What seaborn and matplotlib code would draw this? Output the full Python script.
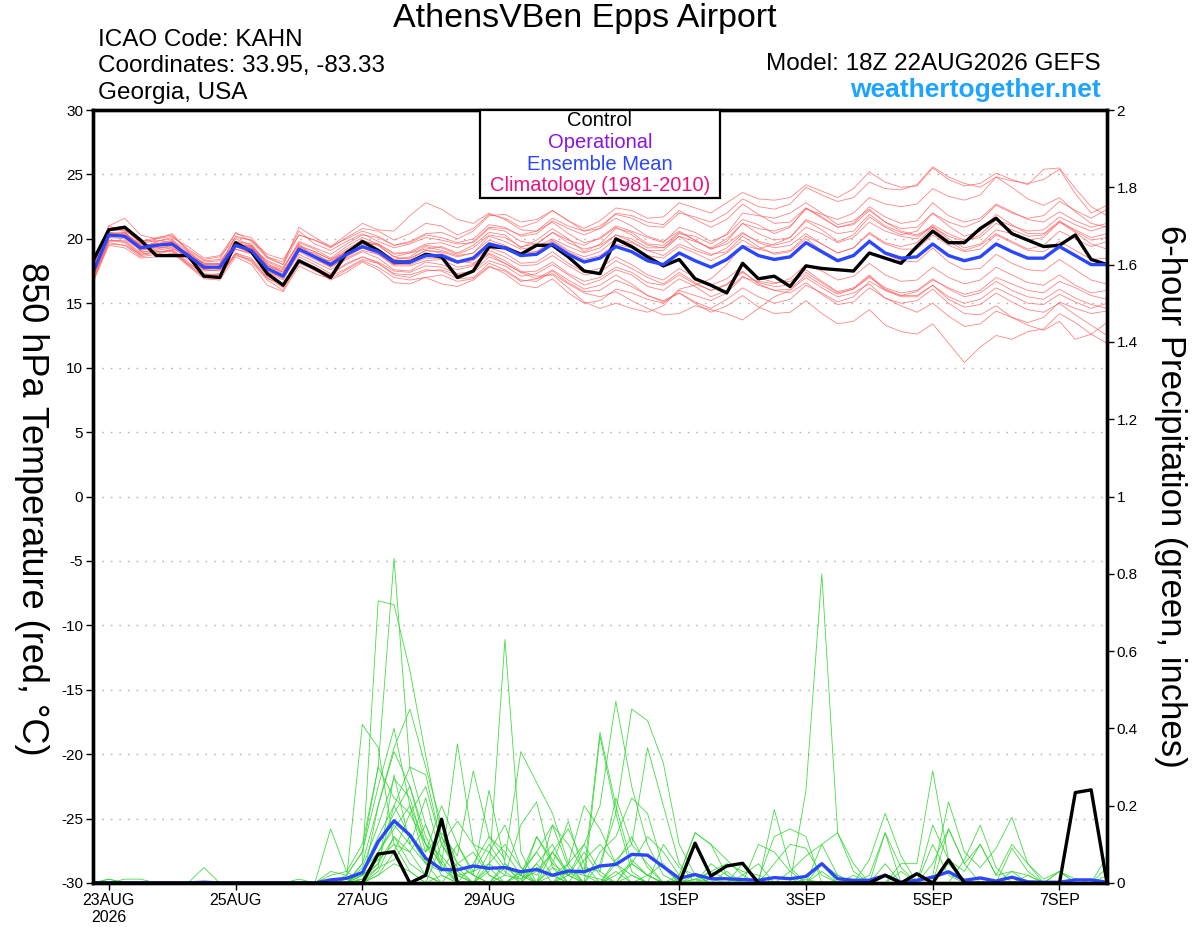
import numpy as np
import pandas as pd
import matplotlib
matplotlib.use("Agg")
import matplotlib.pyplot as plt
import matplotlib.patches as mpatches
from matplotlib.ticker import FuncFormatter
import seaborn as sns

# ---------------- data ----------------
times = pd.date_range("2026-08-22 18:00", periods=65, freq="6h")

tick_dates = pd.to_datetime(["2026-08-23", "2026-08-25", "2026-08-27", "2026-08-29",
                             "2026-09-01", "2026-09-03", "2026-09-05", "2026-09-07"])
tick_labels = ["23AUG\n2026", "25AUG", "27AUG", "29AUG", "1SEP", "3SEP", "5SEP", "7SEP"]

temp_mean = [17.4, 20.3, 20.2, 19.3, 19.5, 19.6, 18.7, 17.8,
             17.8, 19.5, 19.1, 17.7, 17.1, 19.2, 18.6, 18.0,
             18.8, 19.4, 19.0, 18.2, 18.2, 18.7, 18.7, 18.2,
             18.5, 19.6, 19.3, 18.7, 18.8, 19.6, 18.8, 18.2,
             18.5, 19.4, 19.0, 18.3, 18.0, 18.9, 18.3, 17.8,
             18.4, 19.4, 18.7, 18.4, 18.6, 19.7, 19.0, 18.3,
             18.7, 19.8, 18.9, 18.5, 18.6, 19.6, 18.7, 18.3,
             18.6, 19.6, 19.0, 18.5, 18.5, 19.4, 18.7, 18.0,
             18.0]

temp_control = [18.3, 20.7, 20.9, 19.9, 18.7, 18.7, 18.7, 17.1,
                17.0, 19.7, 19.0, 17.3, 16.4, 18.3, 17.7, 17.0,
                18.9, 19.8, 19.1, 18.2, 18.2, 18.8, 18.6, 17.0,
                17.5, 19.4, 19.3, 18.8, 19.5, 19.5, 18.6, 17.5,
                17.3, 20.0, 19.4, 18.6, 17.9, 18.4, 16.9, 16.4,
                15.8, 18.1, 16.9, 17.1, 16.3, 17.9, 17.7, 17.6,
                17.5, 18.9, 18.5, 18.1, 19.4, 20.6, 19.7, 19.7,
                20.8, 21.6, 20.4, 19.9, 19.4, 19.5, 20.3, 18.4,
                18.0]

temp_members = [
    [17.9, 20.8, 21.0, 19.8, 20.1, 20.3, 19.0, 18.1, 18.0, 20.2, 19.9, 18.6, 18.0, 20.3, 19.9, 19.3,
     20.1, 20.8, 20.6, 19.9, 20.4, 21.2, 21.0, 20.3, 20.8, 21.9, 21.6, 20.9, 21.3, 22.2, 21.4, 20.8,
     21.4, 22.4, 22.2, 21.6, 21.7, 22.8, 22.4, 22.0, 22.8, 23.6, 23.1, 23.0, 23.2, 24.2, 23.7, 23.2,
     23.9, 25.2, 24.4, 24.0, 24.1, 25.5, 24.6, 24.1, 24.3, 25.1, 24.6, 24.2, 25.4, 25.5, 23.9, 22.5,
     21.8],
    [16.9, 19.6, 19.5, 18.8, 19.0, 19.0, 18.0, 17.0, 17.2, 18.9, 18.3, 17.0, 16.2, 18.3, 17.8, 17.2,
     18.0, 18.6, 18.1, 17.3, 17.2, 17.6, 17.5, 16.9, 17.0, 18.1, 17.6, 16.8, 16.7, 17.5, 16.6, 15.9,
     16.0, 16.8, 16.3, 15.6, 15.1, 15.8, 15.0, 14.3, 14.8, 15.6, 14.7, 14.2, 14.3, 15.2, 14.2, 13.4,
     13.6, 14.5, 13.3, 12.8, 12.6, 13.4, 11.9, 10.4, 11.6, 12.5, 12.2, 12.8, 13.0, 14.2, 13.5, 12.6,
     11.9],
    [18.2, 21.0, 20.6, 19.9, 19.8, 20.1, 19.4, 18.5, 18.7, 20.4, 20.1, 18.6, 18.2, 20.6, 19.6, 19.1,
     19.8, 20.4, 19.8, 19.3, 19.6, 20.1, 19.9, 19.6, 19.7, 20.8, 20.6, 19.8, 19.6, 20.5, 19.9, 19.5,
     20.1, 21.0, 20.6, 20.1, 19.7, 20.9, 20.5, 19.8, 20.3, 21.5, 21.1, 20.4, 20.9, 22.4, 21.6, 20.9,
     21.2, 22.5, 21.7, 21.2, 21.4, 22.8, 21.8, 21.3, 21.6, 22.7, 22.1, 21.5, 21.3, 22.1, 21.4, 20.9,
     21.2],
    [16.8, 19.9, 19.7, 18.7, 18.9, 19.2, 18.2, 17.2, 17.3, 18.7, 18.4, 16.9, 16.5, 18.3, 17.5, 17.1,
     17.7, 18.4, 18.1, 17.2, 17.0, 17.5, 17.6, 17.2, 17.4, 18.3, 17.9, 17.1, 17.3, 18.0, 17.2, 16.4,
     16.8, 17.6, 17.2, 16.3, 16.0, 16.9, 16.3, 15.5, 16.0, 17.1, 16.4, 16.0, 16.1, 17.2, 16.4, 15.7,
     16.1, 17.0, 16.2, 15.8, 16.0, 16.9, 16.1, 15.5, 15.8, 16.7, 16.0, 15.5, 15.3, 16.1, 15.4, 14.9,
     14.6],
    [17.6, 20.6, 20.9, 19.6, 19.3, 19.4, 18.9, 17.6, 17.6, 19.8, 19.4, 18.1, 17.4, 19.5, 19.0, 18.4,
     19.2, 19.9, 19.5, 18.6, 18.4, 19.1, 18.9, 18.3, 18.1, 18.9, 18.3, 17.5, 17.1, 17.2, 16.2, 15.1,
     14.6, 15.0, 14.6, 14.3, 14.8, 16.1, 16.4, 16.9, 18.0, 19.5, 19.2, 19.6, 20.1, 21.5, 21.0, 20.4,
     20.6, 21.9, 21.0, 20.5, 20.2, 20.9, 19.8, 19.1, 19.5, 20.4, 19.8, 19.2, 19.5, 20.6, 20.0, 19.4,
     19.8],
    [17.8, 20.5, 20.4, 19.6, 19.9, 19.7, 18.9, 18.1, 18.1, 19.8, 19.6, 18.0, 17.6, 19.7, 19.2, 18.5,
     19.4, 20.1, 19.6, 18.9, 18.9, 19.5, 19.3, 18.8, 19.3, 20.3, 20.1, 19.4, 19.6, 20.5, 19.7, 19.2,
     19.5, 20.3, 19.8, 19.1, 18.7, 19.6, 19.1, 18.7, 19.3, 20.4, 19.8, 19.5, 19.8, 20.9, 20.4, 19.7,
     20.1, 21.3, 20.6, 20.2, 20.0, 21.1, 20.4, 19.9, 20.1, 21.2, 20.7, 20.2, 20.3, 21.3, 20.7, 20.1,
     20.4],
    [17.1, 19.8, 19.9, 18.9, 19.2, 19.5, 18.4, 17.5, 17.6, 19.2, 18.8, 17.5, 16.9, 18.8, 18.2, 17.6,
     18.4, 19.0, 18.5, 17.6, 17.5, 18.2, 18.0, 17.6, 17.9, 18.8, 18.1, 17.4, 16.9, 17.3, 16.5, 15.8,
     15.5, 15.9, 15.2, 14.6, 14.1, 14.2, 14.8, 14.5, 14.2, 13.7, 14.6, 15.5, 16.0, 17.0, 16.2, 15.5,
     15.8, 16.5, 15.4, 14.8, 14.3, 15.0, 14.0, 13.2, 13.4, 14.4, 13.9, 13.5, 13.9, 15.1, 14.6, 14.2,
     14.4],
    [18.0, 21.0, 21.6, 20.3, 20.0, 20.4, 19.1, 18.3, 18.4, 20.5, 19.8, 18.5, 18.0, 20.9, 20.1, 19.4,
     20.3, 21.2, 20.7, 20.6, 21.8, 22.8, 22.3, 21.5, 21.2, 22.0, 21.5, 20.7, 20.6, 21.3, 20.4, 19.7,
     20.0, 20.9, 20.3, 19.5, 19.3, 20.2, 19.3, 18.8, 19.0, 20.2, 19.4, 18.8, 19.0, 20.0, 19.1, 18.4,
     18.7, 19.8, 18.8, 18.3, 18.2, 19.3, 18.2, 17.6, 17.7, 18.8, 18.1, 17.6, 17.5, 18.4, 17.6, 16.8,
     16.5],
    [17.5, 20.2, 20.5, 19.4, 19.7, 19.5, 18.6, 17.7, 17.9, 19.6, 19.4, 17.9, 17.3, 19.4, 19.0, 18.4,
     19.0, 19.8, 19.6, 18.8, 19.0, 19.6, 19.7, 19.3, 19.8, 20.9, 20.8, 20.3, 20.6, 21.6, 21.0, 20.6,
     21.0, 21.9, 21.6, 21.0, 20.9, 22.0, 21.7, 21.3, 22.0, 23.1, 22.5, 22.3, 22.7, 24.0, 23.4, 22.9,
     23.2, 24.4, 23.9, 23.8, 24.2, 25.6, 24.8, 24.3, 24.0, 24.8, 24.0, 23.1, 22.6, 23.2, 22.1, 21.2,
     20.9],
    [17.0, 19.9, 19.8, 18.8, 19.0, 19.1, 18.1, 17.3, 17.2, 18.9, 18.5, 17.1, 16.4, 18.6, 18.0, 17.3,
     18.1, 18.6, 18.2, 17.5, 17.4, 17.9, 17.8, 17.3, 17.5, 18.6, 18.1, 17.4, 17.5, 18.2, 17.3, 16.7,
     17.0, 17.8, 17.4, 16.6, 16.4, 17.2, 16.5, 16.0, 16.5, 17.4, 16.6, 16.3, 16.4, 17.4, 16.6, 15.8,
     16.1, 17.1, 16.0, 15.5, 15.5, 16.4, 15.5, 15.0, 15.3, 16.2, 15.6, 15.0, 14.9, 15.7, 15.1, 14.6,
     15.0],
    [17.3, 20.4, 20.1, 19.2, 19.8, 20.0, 18.6, 17.9, 17.7, 19.3, 19.5, 17.9, 17.5, 19.0, 18.9, 18.1,
     19.1, 19.7, 19.5, 18.6, 18.9, 19.2, 19.4, 18.9, 19.5, 20.5, 20.3, 19.3, 19.9, 20.8, 20.0, 19.0,
     19.6, 20.8, 20.5, 19.6, 19.5, 20.5, 19.9, 19.2, 19.8, 21.2, 20.4, 19.9, 20.1, 21.4, 20.7, 19.8,
     20.3, 21.7, 20.9, 20.3, 20.6, 22.0, 21.0, 20.2, 20.6, 21.9, 21.1, 20.4, 20.4, 21.4, 20.6, 19.9,
     20.1],
    [17.5, 20.1, 20.0, 19.1, 19.4, 19.8, 18.8, 17.9, 17.8, 19.4, 18.9, 17.5, 17.0, 19.3, 18.5, 17.8,
     18.6, 19.3, 18.8, 18.0, 18.0, 18.5, 18.5, 18.1, 18.3, 19.3, 18.9, 18.1, 18.2, 19.0, 18.1, 17.4,
     17.7, 18.6, 18.0, 17.2, 16.8, 17.7, 17.0, 16.4, 16.9, 17.9, 17.0, 16.6, 16.7, 17.6, 16.7, 15.9,
     16.2, 17.2, 16.1, 15.6, 15.6, 16.4, 15.3, 14.7, 14.9, 15.8, 15.1, 14.5, 14.3, 15.0, 14.1, 13.3,
     12.5],
    [17.7, 20.5, 20.3, 19.5, 19.6, 19.9, 19.0, 18.0, 18.1, 20.0, 19.5, 18.2, 17.7, 19.8, 19.3, 18.8,
     19.6, 20.3, 20.1, 19.5, 19.8, 20.4, 20.5, 20.0, 20.6, 21.8, 21.9, 21.3, 21.5, 22.2, 21.4, 20.6,
     20.8, 21.6, 21.0, 20.2, 19.8, 20.6, 19.9, 19.2, 19.6, 20.5, 19.7, 19.3, 19.5, 20.4, 19.6, 18.9,
     19.3, 20.5, 19.7, 19.4, 19.7, 20.9, 20.2, 19.8, 20.3, 21.5, 21.0, 20.6, 20.7, 21.7, 21.1, 20.6,
     21.0],
    [16.6, 19.5, 19.3, 18.5, 18.6, 18.9, 17.9, 16.9, 16.8, 18.6, 18.0, 16.4, 15.9, 17.9, 17.3, 16.9,
     17.6, 18.3, 17.8, 17.0, 16.8, 17.0, 16.5, 16.3, 16.8, 17.8, 17.5, 16.7, 16.9, 17.6, 16.8, 16.1,
     16.4, 17.2, 16.5, 15.6, 15.2, 15.8, 15.1, 14.6, 15.3, 16.2, 15.5, 15.0, 15.3, 16.4, 15.8, 15.1,
     15.5, 16.7, 16.0, 15.6, 15.9, 16.8, 16.2, 15.7, 16.0, 17.0, 16.5, 16.0, 15.8, 16.7, 16.2, 15.6,
     15.3],
    [17.9, 20.7, 20.6, 19.0, 19.1, 19.3, 18.6, 18.2, 18.3, 19.5, 19.3, 18.3, 17.8, 19.6, 18.5, 18.3,
     19.0, 19.3, 19.1, 18.4, 18.6, 19.4, 19.1, 18.7, 18.9, 20.2, 19.8, 19.2, 19.4, 20.0, 19.4, 18.9,
     19.3, 20.3, 20.0, 19.3, 19.3, 20.4, 20.2, 19.6, 20.4, 22.0, 21.8, 21.6, 22.0, 22.8, 22.0, 21.1,
     21.4, 22.3, 21.3, 20.6, 20.3, 21.0, 20.0, 19.3, 19.6, 20.7, 20.4, 19.9, 20.1, 21.3, 20.5, 19.6,
     19.2],
    [17.2, 20.1, 20.2, 19.1, 19.3, 19.3, 18.5, 17.6, 17.5, 19.2, 18.9, 17.4, 16.8, 19.0, 18.4, 17.8,
     18.5, 19.1, 18.8, 17.9, 17.9, 18.3, 18.4, 17.8, 18.0, 19.1, 18.6, 17.9, 18.0, 18.7, 17.9, 17.2,
     17.4, 18.3, 17.7, 17.0, 16.5, 17.4, 16.6, 16.0, 16.4, 17.5, 16.5, 16.0, 15.8, 16.6, 15.7, 14.9,
     15.1, 16.2, 15.4, 15.0, 15.2, 16.1, 15.0, 14.2, 14.1, 14.8, 13.9, 13.3, 12.9, 13.6, 12.2, 12.6,
     13.5],
    [17.4, 20.3, 20.3, 19.2, 19.4, 19.7, 18.6, 17.6, 17.9, 19.4, 19.0, 17.6, 17.2, 19.1, 18.6, 17.9,
     18.7, 19.3, 18.9, 18.0, 18.2, 18.7, 18.6, 18.2, 18.6, 19.7, 19.4, 18.9, 19.0, 19.8, 19.0, 18.4,
     18.7, 19.6, 19.3, 18.7, 18.5, 19.4, 18.9, 18.3, 18.9, 19.9, 19.2, 18.9, 19.1, 20.2, 19.6, 18.9,
     19.3, 20.4, 19.6, 19.2, 19.2, 20.3, 19.5, 19.0, 19.2, 20.3, 19.7, 19.1, 19.0, 19.8, 19.1, 18.4,
     18.5],
    [17.6, 20.4, 20.5, 19.5, 19.6, 19.8, 18.8, 18.0, 18.0, 19.7, 19.3, 17.9, 17.4, 19.4, 18.8, 18.2,
     19.0, 19.6, 19.2, 18.4, 18.5, 19.1, 19.0, 18.6, 18.9, 19.9, 19.5, 18.9, 19.0, 19.9, 19.1, 18.6,
     19.0, 20.0, 19.7, 19.1, 19.1, 20.2, 19.8, 19.3, 20.0, 21.2, 20.8, 20.6, 21.0, 22.3, 21.9, 21.5,
     22.0, 23.2, 22.7, 22.5, 22.7, 23.9, 23.3, 23.0, 23.4, 24.8, 24.5, 24.3, 24.6, 25.4, 23.5, 22.0,
     22.6],
    [16.7, 19.7, 19.5, 18.6, 18.8, 19.1, 18.0, 17.1, 17.0, 18.8, 18.2, 16.8, 16.0, 18.1, 17.6, 16.8,
     17.4, 18.2, 17.6, 16.6, 16.5, 17.0, 17.2, 16.7, 16.9, 17.9, 17.3, 16.4, 16.2, 16.9, 15.8, 15.0,
     15.2, 16.1, 15.8, 15.3, 15.0, 16.0, 15.6, 15.2, 15.8, 17.0, 16.7, 16.5, 16.9, 18.0, 17.5, 16.8,
     17.1, 18.1, 17.2, 16.7, 16.8, 17.8, 17.0, 16.5, 16.8, 17.8, 17.2, 16.6, 16.4, 17.2, 16.4, 15.8,
     16.0],
    [18.3, 20.8, 20.7, 19.7, 20.0, 20.2, 19.2, 18.4, 18.6, 20.1, 19.9, 18.8, 18.4, 20.3, 19.9, 19.4,
     20.0, 20.6, 20.2, 19.5, 19.7, 20.3, 20.1, 19.7, 20.0, 21.1, 20.9, 20.2, 20.4, 21.4, 20.8, 20.3,
     20.8, 22.0, 21.8, 21.3, 21.1, 22.2, 21.5, 20.9, 21.5, 22.7, 21.9, 21.2, 21.3, 22.4, 21.7, 20.9,
     21.1, 22.2, 21.3, 20.8, 20.9, 22.0, 21.3, 20.9, 21.4, 22.6, 22.0, 21.6, 21.8, 22.9, 22.2, 21.6,
     22.3],
]

precip_mean = [0.0, 0.0, 0.0, 0.0, 0.0, 0.0, 0.0, 0.002,
               0.0, 0.0, 0.0, 0.0, 0.0, 0.0, 0.0, 0.008,
               0.012, 0.027, 0.107, 0.161, 0.124, 0.064, 0.035, 0.034,
               0.044, 0.038, 0.040, 0.029, 0.035, 0.020, 0.031, 0.029,
               0.044, 0.048, 0.074, 0.072, 0.042, 0.012, 0.022, 0.011,
               0.011, 0.009, 0.007, 0.014, 0.011, 0.017, 0.050, 0.011,
               0.007, 0.007, 0.020, 0.002, 0.007, 0.015, 0.029, 0.007,
               0.013, 0.005, 0.015, 0.003, 0.002, 0.002, 0.008, 0.008,
               0.002]

precip_control = [0.0, 0.0, 0.0, 0.0, 0.0, 0.0, 0.0, 0.0,
                  0.0, 0.0, 0.0, 0.0, 0.0, 0.0, 0.0, 0.0,
                  0.0, 0.0, 0.075, 0.081, 0.0, 0.020, 0.165, 0.0,
                  0.0, 0.0, 0.0, 0.0, 0.0, 0.0, 0.0, 0.0,
                  0.0, 0.0, 0.0, 0.0, 0.0, 0.0, 0.103, 0.018,
                  0.044, 0.051, 0.0, 0.0, 0.0, 0.0, 0.0, 0.0,
                  0.0, 0.0, 0.020, 0.0, 0.024, 0.0, 0.060, 0.0,
                  0.0, 0.0, 0.0, 0.0, 0.0, 0.0, 0.234, 0.241,
                  0.0]

precip_members = [
    [0, 0.01, 0, 0, 0, 0, 0, 0, 0, 0, 0, 0, 0, 0, 0, 0,
     0, 0.05, 0.73, 0.72, 0.55, 0.33, 0.12, 0.05, 0.02, 0, 0, 0.03, 0.08, 0.02, 0, 0,
     0, 0.05, 0.12, 0.04, 0, 0, 0.01, 0, 0, 0, 0, 0, 0, 0.01, 0, 0,
     0, 0, 0, 0, 0, 0, 0, 0, 0, 0, 0, 0, 0, 0, 0, 0, 0],
    [0, 0, 0, 0, 0, 0, 0, 0, 0, 0, 0, 0, 0, 0, 0, 0.02,
     0.03, 0.10, 0.30, 0.84, 0.30, 0.15, 0.04, 0.02, 0, 0, 0.05, 0.02, 0, 0, 0.03, 0,
     0, 0, 0, 0.02, 0.05, 0, 0, 0.01, 0, 0, 0, 0, 0, 0.02, 0.05, 0,
     0, 0, 0, 0, 0, 0, 0, 0, 0, 0, 0, 0, 0, 0, 0, 0, 0],
    [0, 0, 0, 0, 0, 0, 0, 0, 0, 0, 0, 0, 0, 0, 0, 0,
     0.01, 0.41, 0.35, 0.10, 0.03, 0, 0.02, 0, 0, 0.04, 0, 0, 0, 0.08, 0.02, 0,
     0.38, 0.18, 0.03, 0, 0, 0.01, 0, 0, 0, 0, 0, 0.19, 0.04, 0, 0, 0,
     0, 0, 0, 0, 0, 0, 0, 0, 0, 0, 0, 0, 0, 0, 0, 0, 0],
    [0, 0, 0.01, 0.01, 0, 0, 0, 0, 0, 0, 0, 0, 0, 0, 0, 0.14,
     0.03, 0, 0.20, 0.34, 0.25, 0.10, 0.05, 0.36, 0.10, 0.02, 0, 0, 0, 0.05, 0.16, 0.02,
     0, 0, 0.02, 0, 0, 0, 0, 0, 0, 0, 0, 0, 0, 0, 0, 0,
     0, 0, 0.05, 0, 0, 0, 0, 0, 0, 0, 0, 0, 0, 0, 0, 0, 0],
    [0, 0, 0, 0, 0, 0, 0, 0, 0, 0, 0, 0, 0, 0, 0, 0,
     0, 0.02, 0.10, 0.18, 0.25, 0.12, 0.04, 0, 0, 0.03, 0.63, 0.08, 0, 0, 0.05, 0.10,
     0.03, 0, 0, 0, 0, 0.02, 0.13, 0.10, 0.02, 0, 0, 0, 0, 0, 0, 0,
     0, 0, 0, 0, 0, 0, 0, 0, 0, 0, 0, 0, 0, 0, 0, 0, 0],
    [0, 0, 0, 0, 0, 0, 0, 0.04, 0, 0, 0, 0, 0, 0, 0, 0,
     0, 0.04, 0.15, 0.27, 0.22, 0.08, 0.13, 0.07, 0.29, 0.12, 0.06, 0.34, 0.26, 0.18, 0.05, 0,
     0, 0.03, 0, 0, 0, 0, 0, 0, 0, 0.02, 0.05, 0, 0, 0, 0, 0,
     0, 0, 0, 0, 0, 0, 0, 0, 0, 0, 0, 0, 0, 0, 0, 0, 0],
    [0, 0, 0, 0, 0, 0, 0, 0, 0, 0, 0, 0, 0, 0, 0, 0,
     0, 0, 0.03, 0.12, 0.08, 0.02, 0, 0.05, 0.02, 0.24, 0.05, 0, 0, 0.04, 0.02, 0.10,
     0.20, 0.47, 0.25, 0.10, 0.02, 0, 0, 0, 0, 0, 0, 0, 0, 0, 0.10, 0.13,
     0.05, 0, 0, 0, 0, 0, 0, 0, 0, 0, 0, 0, 0, 0, 0, 0, 0],
    [0, 0, 0, 0, 0, 0, 0, 0, 0, 0, 0, 0, 0, 0, 0, 0,
     0.02, 0.08, 0.25, 0.40, 0.20, 0.10, 0.07, 0.02, 0, 0, 0, 0.02, 0.08, 0.15, 0.04, 0,
     0.05, 0.18, 0.45, 0.42, 0.31, 0.10, 0.02, 0, 0, 0, 0, 0, 0, 0, 0, 0,
     0, 0, 0.13, 0.04, 0, 0, 0.14, 0.05, 0, 0, 0, 0, 0, 0, 0, 0, 0],
    [0, 0, 0, 0, 0, 0, 0, 0, 0, 0, 0, 0, 0, 0, 0, 0,
     0, 0.02, 0.05, 0.12, 0.05, 0.02, 0, 0, 0, 0, 0, 0.03, 0, 0, 0, 0,
     0, 0.02, 0.05, 0.02, 0, 0, 0.02, 0, 0, 0, 0, 0, 0, 0.24, 0.80, 0.13,
     0.03, 0, 0, 0, 0, 0, 0, 0, 0, 0, 0, 0, 0, 0, 0, 0, 0],
    [0, 0, 0, 0, 0, 0, 0, 0, 0, 0, 0, 0, 0, 0, 0, 0,
     0, 0.05, 0.20, 0.35, 0.45, 0.30, 0.15, 0.05, 0.08, 0.02, 0, 0, 0.05, 0.10, 0.02, 0,
     0, 0, 0, 0, 0, 0, 0, 0.03, 0.01, 0, 0, 0, 0, 0, 0, 0,
     0.02, 0, 0, 0.05, 0.05, 0.29, 0.06, 0, 0, 0, 0, 0, 0, 0, 0, 0, 0],
    [0, 0, 0, 0, 0, 0, 0, 0, 0, 0, 0, 0, 0, 0, 0, 0,
     0, 0, 0.08, 0.15, 0.10, 0.22, 0.06, 0, 0, 0, 0.02, 0.15, 0.21, 0.04, 0, 0.06,
     0.10, 0.05, 0.02, 0, 0, 0, 0, 0, 0, 0, 0, 0, 0, 0, 0, 0,
     0, 0, 0, 0, 0, 0.02, 0.21, 0.08, 0.04, 0.09, 0.17, 0.05, 0, 0, 0, 0, 0],
    [0, 0, 0, 0, 0, 0, 0, 0, 0, 0, 0, 0, 0, 0, 0, 0,
     0, 0.03, 0.12, 0.20, 0.30, 0.28, 0.10, 0.03, 0, 0.05, 0.10, 0.04, 0, 0.02, 0.05, 0.20,
     0.14, 0.05, 0, 0, 0, 0, 0, 0, 0, 0, 0.10, 0.08, 0.03, 0, 0, 0,
     0, 0.06, 0.18, 0.07, 0, 0, 0, 0.06, 0.15, 0.04, 0, 0, 0, 0, 0, 0, 0],
    [0, 0, 0, 0, 0, 0, 0, 0, 0, 0, 0, 0, 0, 0.01, 0, 0,
     0, 0.01, 0.04, 0.06, 0.12, 0.08, 0.20, 0.10, 0.03, 0.10, 0.04, 0.02, 0.12, 0.06, 0, 0,
     0.08, 0.12, 0.22, 0.18, 0.04, 0, 0, 0, 0.03, 0, 0, 0.05, 0.10, 0.09, 0.02, 0,
     0, 0, 0, 0, 0, 0, 0, 0, 0, 0, 0, 0, 0, 0, 0, 0, 0],
    [0, 0, 0, 0, 0, 0, 0, 0, 0, 0, 0, 0, 0, 0, 0, 0,
     0, 0, 0.02, 0.05, 0.03, 0, 0.10, 0.16, 0.10, 0.08, 0.15, 0.04, 0.02, 0.08, 0.14, 0.05,
     0, 0, 0.05, 0.12, 0.08, 0.02, 0.13, 0.10, 0.06, 0.02, 0, 0, 0, 0, 0, 0,
     0, 0, 0, 0, 0, 0, 0, 0, 0, 0, 0, 0, 0, 0, 0, 0, 0.07],
    [0, 0, 0, 0, 0, 0, 0, 0, 0, 0, 0, 0, 0, 0, 0, 0,
     0.01, 0.02, 0.06, 0.10, 0.08, 0.15, 0.05, 0, 0, 0, 0, 0, 0, 0, 0, 0,
     0, 0.06, 0.10, 0.05, 0, 0, 0.01, 0.03, 0.05, 0.03, 0.02, 0, 0.03, 0.07, 0.10, 0.02,
     0, 0, 0, 0, 0, 0.05, 0.14, 0.05, 0.10, 0.02, 0.10, 0.05, 0.01, 0.03, 0, 0, 0.02],
    [0, 0, 0, 0, 0, 0, 0, 0, 0, 0, 0, 0, 0, 0, 0, 0.03,
     0.02, 0.08, 0.30, 0.22, 0.18, 0.10, 0.02, 0, 0.05, 0.12, 0.08, 0.02, 0, 0.15, 0.10, 0.03,
     0.39, 0.20, 0.05, 0.02, 0, 0, 0, 0, 0, 0, 0, 0, 0, 0, 0, 0,
     0, 0, 0, 0, 0, 0, 0, 0, 0, 0, 0, 0.02, 0, 0.03, 0, 0, 0],
    [0, 0, 0, 0, 0, 0, 0, 0, 0, 0, 0, 0, 0, 0, 0, 0,
     0, 0.01, 0.05, 0.20, 0.12, 0.05, 0.03, 0.10, 0.02, 0, 0.04, 0.01, 0.05, 0, 0.02, 0.04,
     0.03, 0.22, 0.10, 0.35, 0.20, 0.05, 0, 0, 0, 0, 0, 0, 0, 0, 0.05, 0.02,
     0, 0, 0, 0, 0, 0.10, 0.02, 0, 0, 0, 0.09, 0.03, 0, 0, 0, 0, 0],
    [0, 0, 0, 0, 0, 0, 0, 0, 0, 0, 0, 0, 0, 0, 0, 0,
     0, 0.03, 0.08, 0.14, 0.20, 0.05, 0, 0, 0, 0, 0, 0, 0.04, 0.02, 0, 0,
     0, 0, 0.06, 0.02, 0, 0, 0, 0.05, 0.02, 0, 0.01, 0.12, 0.14, 0.12, 0, 0,
     0, 0.02, 0.13, 0, 0, 0, 0, 0, 0, 0, 0, 0, 0, 0.03, 0.01, 0, 0.04],
    [0, 0, 0, 0, 0, 0, 0, 0, 0, 0, 0, 0, 0, 0, 0, 0,
     0, 0, 0.02, 0.08, 0.18, 0.25, 0.10, 0.04, 0, 0.08, 0.03, 0, 0.12, 0.05, 0.02, 0.08,
     0.02, 0, 0, 0, 0.10, 0.04, 0.02, 0, 0, 0.05, 0, 0, 0, 0, 0, 0,
     0, 0, 0, 0.03, 0, 0.15, 0.06, 0.03, 0.10, 0.02, 0.03, 0, 0, 0, 0, 0, 0],
    [0, 0.01, 0, 0, 0, 0, 0, 0, 0, 0, 0, 0, 0, 0, 0, 0,
     0, 0, 0.04, 0.28, 0.10, 0.05, 0.12, 0.02, 0.03, 0.05, 0.02, 0.01, 0.03, 0.08, 0.03, 0.02,
     0.01, 0, 0, 0, 0, 0, 0, 0, 0, 0, 0, 0, 0, 0, 0.03, 0,
     0, 0, 0, 0, 0, 0, 0.05, 0, 0, 0, 0.03, 0.02, 0, 0, 0, 0, 0],
]

# ---------------- long-form tables ----------------
def to_long(members, name):
    rows = []
    for k, vals in enumerate(members):
        for t, v in zip(times, vals):
            rows.append((k, t, v))
    return pd.DataFrame(rows, columns=["member", "time", name])

df_temp = to_long(temp_members, "temp")
df_prcp = to_long(precip_members, "prcp")
df_lines = pd.DataFrame({"time": times, "temp_mean": temp_mean, "temp_control": temp_control,
                         "prcp_mean": precip_mean, "prcp_control": precip_control})

# ---------------- figure ----------------
plt.rcParams["font.family"] = ["Liberation Sans", "DejaVu Sans"]
plt.rcParams["axes.unicode_minus"] = False

fig = plt.figure(figsize=(12, 9.27), dpi=100)
L, R, T, B = 93, 1107, 110, 883
ax = fig.add_axes([L / 1200, 1 - B / 927, (R - L) / 1200, (B - T) / 927])
ax2 = ax.twinx()

RED = "#ff5a5a"
GREEN = "#33d633"
BLUE = "#2b46ff"

# grid
for yv in range(-25, 30, 5):
    ax.axhline(yv, color="#b4b4b4", lw=1.0, ls=(0, (1.2, 5)), zorder=0)

sns.lineplot(data=df_temp, x="time", y="temp", units="member", estimator=None,
             color=RED, lw=0.55, alpha=0.8, ax=ax, legend=False)
sns.lineplot(data=df_lines, x="time", y="temp_control", color="black", lw=2.4, ax=ax)
sns.lineplot(data=df_lines, x="time", y="temp_mean", color=BLUE, lw=2.4, ax=ax)

sns.lineplot(data=df_prcp, x="time", y="prcp", units="member", estimator=None,
             color=GREEN, lw=0.6, alpha=0.9, ax=ax2, legend=False)
sns.lineplot(data=df_lines, x="time", y="prcp_mean", color=BLUE, lw=2.4, ax=ax2)
sns.lineplot(data=df_lines, x="time", y="prcp_control", color="black", lw=2.4, ax=ax2)

ax.set_xlim(times[0], times[-1])
ax.set_ylim(-30, 30)
ax2.set_ylim(0, 2)
ax.set_yticks(list(range(-30, 31, 5)))
ax2.set_yticks(np.arange(0, 2.001, 0.2))
ax2.yaxis.set_major_formatter(FuncFormatter(lambda v, p: f"{v:g}"))
ax.set_xticks(tick_dates)
ax.set_xticklabels(tick_labels)
for a in (ax, ax2):
    a.set_xlabel("")
    a.set_ylabel("")
    for s in a.spines.values():
        s.set_linewidth(2.4)
        s.set_color("black")
ax.tick_params(axis="y", length=5, width=1, labelsize=11, pad=2)
ax2.tick_params(axis="y", length=5, width=1, labelsize=11, pad=2)
ax.tick_params(axis="x", length=5, width=1, labelsize=11.5, pad=2)

# axis titles
fig.text(31 / 1200, 1 - 509 / 927, "850 hPa Temperature (red, °C)", rotation=-90,
         ha="center", va="center", fontsize=26)
fig.text(1170 / 1200, 1 - 496 / 927, "6-hour Precipitation (green, inches)", rotation=-90,
         ha="center", va="center", fontsize=25)

# header
fig.text(585 / 1200, 1 - 19 / 927, "AthensVBen Epps Airport", ha="center", va="center", fontsize=24.5)
fig.text(98 / 1200, 1 - 40 / 927, "ICAO Code: KAHN", ha="left", va="center", fontsize=17.5)
fig.text(98 / 1200, 1 - 66 / 927, "Coordinates: 33.95, -83.33", ha="left", va="center", fontsize=17.5)
fig.text(98 / 1200, 1 - 93 / 927, "Georgia, USA", ha="left", va="center", fontsize=17.5)
fig.text(1101 / 1200, 1 - 64 / 927, "Model: 18Z 22AUG2026 GEFS", ha="right", va="center", fontsize=17.5)
fig.text(1101 / 1200, 1 - 90 / 927, "weathertogether.net", ha="right", va="center",
         fontsize=19, fontweight="bold", color="#1ea4ff")

# legend box
rect = mpatches.Rectangle((480 / 1200, 1 - 198 / 927), 240 / 1200, 88 / 927,
                          transform=fig.transFigure, facecolor="white", edgecolor="black",
                          lw=1.6, zorder=10)
fig.add_artist(rect)
legend_items = [("Control", "black"), ("Operational", "#8a14e6"),
                ("Ensemble Mean", "#2b46ff"), ("Climatology (1981-2010)", "#e8137f")]
for k, (txt, col) in enumerate(legend_items):
    fig.text(600 / 1200, 1 - (121 + 21.5 * k) / 927, txt, ha="center", va="center",
             fontsize=14.5, color=col, zorder=11)

fig.savefig("out.png", dpi=100)
